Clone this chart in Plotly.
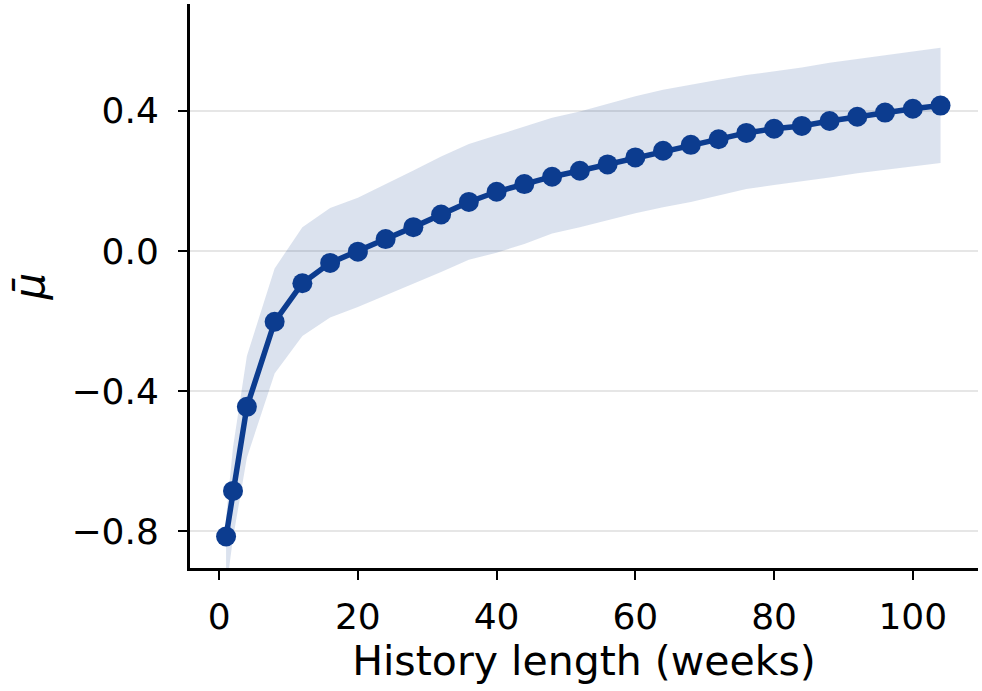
import plotly.graph_objects as go

weeks = [1, 2, 4, 8, 12, 16, 20, 24, 28, 32, 36, 40, 44, 48, 52, 56, 60, 64,
         68, 72, 76, 80, 84, 88, 92, 96, 100, 104]
mu_mean = [-0.815, -0.685, -0.445, -0.202, -0.092, -0.034, -0.002, 0.034, 0.068,
           0.104, 0.140, 0.169, 0.191, 0.212, 0.229, 0.247, 0.267, 0.286, 0.303,
           0.319, 0.337, 0.349, 0.357, 0.371, 0.383, 0.395, 0.406, 0.415]
mu_upper = [-0.76, -0.56, -0.30, -0.05, 0.068, 0.123, 0.152, 0.19, 0.23, 0.27,
            0.305, 0.33, 0.355, 0.38, 0.398, 0.42, 0.442, 0.46, 0.475, 0.489,
            0.502, 0.512, 0.524, 0.537, 0.548, 0.558, 0.57, 0.58]
mu_lower = [-0.97, -0.82, -0.59, -0.35, -0.243, -0.19, -0.16, -0.127, -0.095,
            -0.06, -0.025, -0.005, 0.02, 0.05, 0.068, 0.088, 0.108, 0.125, 0.14,
            0.158, 0.177, 0.188, 0.198, 0.21, 0.222, 0.232, 0.242, 0.251]

x_ticks = [0, 20, 40, 60, 80, 100]
x_ticktext = ["0", "20", "40", "60", "80", "100"]
y_ticks = [-0.8, -0.4, 0.0, 0.4]
y_ticktext = ["\u22120.8", "\u22120.4", "0.0", "0.4"]

LINE = "#0c3c8f"
BAND = "rgba(12,60,143,0.15)"
FONT = "DejaVu Sans"

fig = go.Figure()
fig.add_trace(go.Scatter(x=weeks, y=mu_upper, mode="lines", line=dict(width=0),
                         hoverinfo="skip", showlegend=False))
fig.add_trace(go.Scatter(x=weeks, y=mu_lower, mode="lines", line=dict(width=0),
                         fill="tonexty", fillcolor=BAND, hoverinfo="skip",
                         showlegend=False))
fig.add_trace(go.Scatter(x=weeks, y=mu_mean, mode="lines+markers",
                         line=dict(color=LINE, width=5.5),
                         marker=dict(color=LINE, size=20),
                         showlegend=False, cliponaxis=False))

fig.update_layout(
    width=982, height=691,
    margin=dict(l=190, r=4, t=4, b=123),
    plot_bgcolor="white", paper_bgcolor="white",
    font=dict(family=FONT, size=36, color="black"),
    showlegend=False,
)
fig.update_xaxes(
    range=[-4.2, 109.4], tickvals=x_ticks, ticktext=x_ticktext,
    showline=True, linecolor="black", linewidth=3,
    ticks="outside", ticklen=9, tickwidth=2, tickcolor="black",
    showgrid=False, zeroline=False,
    title=dict(text="History length (weeks)", font=dict(size=41), standoff=8),
    tickfont=dict(size=36), ticklabelstandoff=6,
)
fig.update_yaxes(
    range=[-0.905, 0.705], tickvals=y_ticks, ticktext=y_ticktext,
    showline=True, linecolor="black", linewidth=3,
    ticks="outside", ticklen=9, tickwidth=2, tickcolor="black",
    showgrid=True, gridcolor="#e6e6e6", gridwidth=2, zeroline=False,
    title=dict(text="<i>μ̄</i>", font=dict(size=42), standoff=14),
    tickfont=dict(size=36), ticklabelstandoff=12,
)

fig.write_html("out.html")
